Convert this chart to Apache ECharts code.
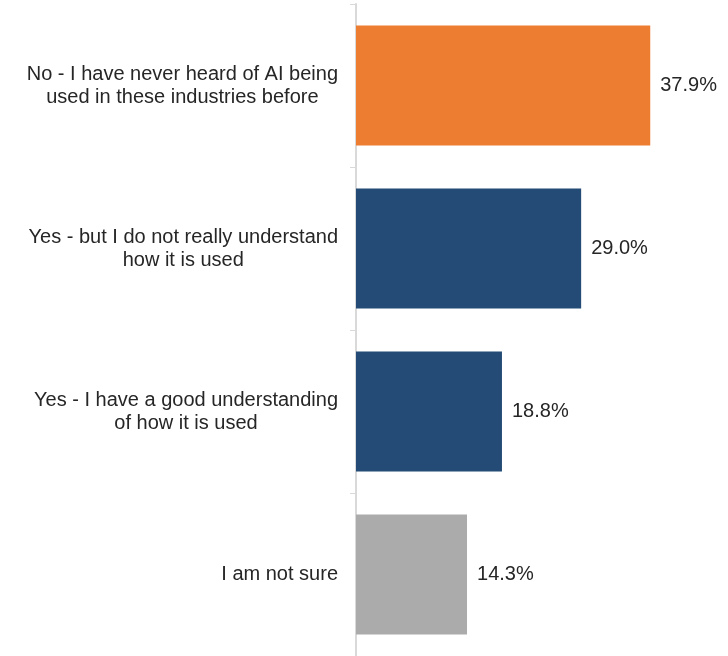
<!DOCTYPE html>
<html>
<head>
<meta charset="utf-8">
<script src="https://cdn.jsdelivr.net/npm/echarts@6/dist/echarts.min.js"></script>
<style>
  html, body { margin: 0; padding: 0; background: #fff; }
  #chart { width: 728px; height: 656px; }
</style>
</head>
<body>
<div id="chart"></div>
<script>
// Survey answers, one line per entry (line breaks as shown on the axis)
const categories = [
  ['No - I have never heard of AI being', 'used in these industries before'],
  ['Yes - but I do not really understand', 'how it is used'],
  ['Yes - I have a good understanding', 'of how it is used'],
  ['I am not sure']
];
const values = [37.9, 29.0, 18.8, 14.3];
const barColors = ['#ED7D31', '#234B75', '#234B75', '#ABABAB'];

const chart = echarts.init(document.getElementById('chart'));
chart.setOption({
  animation: false,
  grid: { left: 356, width: 309, top: 4, height: 655 },
  xAxis: {
    type: 'value', min: 0, max: 39.8, show: false
  },
  yAxis: {
    type: 'category',
    inverse: true,
    data: categories.map(l => l.join('\n')),
    axisLine: { lineStyle: { color: '#D9D9D9', width: 2 } },
    axisTick: {
      show: true, length: 6,
      lineStyle: { color: '#D9D9D9', width: 1 }
    },
    axisLabel: {
      margin: 18,
      align: 'right',
      // each line centred inside the right-aligned label block
      formatter: v => v.split('\n').map(s => '{c|' + s + '}').join('\n'),
      rich: {
        c: {
          align: 'center',
          fontFamily: 'Liberation Sans, Arial, sans-serif',
          fontSize: 20,
          lineHeight: 23,
          color: '#262626'
        }
      }
    }
  },
  series: [{
    type: 'bar',
    barWidth: 120,
    data: values.map((v, i) => ({ value: v, itemStyle: { color: barColors[i] } })),
    label: {
      show: true,
      position: 'right',
      distance: 10,
      formatter: p => p.value.toFixed(1) + '%',
      fontFamily: 'Liberation Sans, Arial, sans-serif',
      fontSize: 20,
      color: '#262626'
    }
  }]
});
</script>
</body>
</html>
